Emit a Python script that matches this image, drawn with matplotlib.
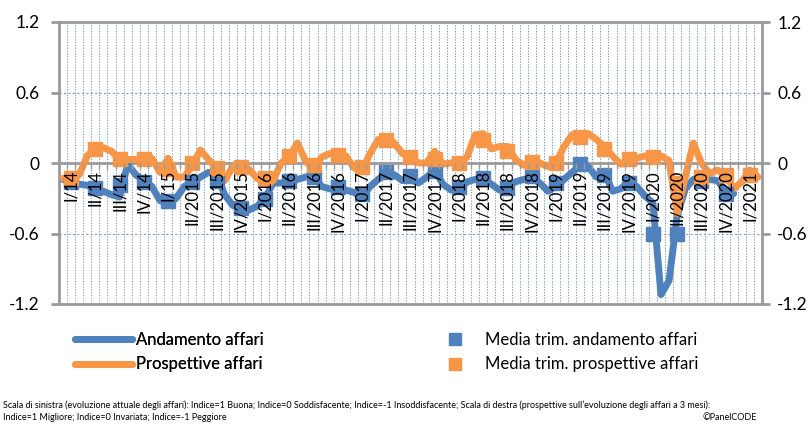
import numpy as np
import matplotlib
matplotlib.use("Agg")
import matplotlib.pyplot as plt
from matplotlib.lines import Line2D

plt.rcParams['font.family'] = ['Lato', 'DejaVu Sans']

# monthly values, Jan 2014 .. Mar 2021
andamento = [-0.14, -0.16, -0.18, -0.19, -0.22, -0.24, -0.27, -0.29, -0.01, -0.10,
             -0.15, -0.20, -0.32, -0.35, -0.30, -0.20, -0.17, -0.12, -0.08, -0.10,
             -0.27, -0.36, -0.40, -0.40, -0.37, -0.30, -0.17, -0.17, -0.16, -0.14,
             -0.12, -0.10, -0.20, -0.22, -0.22, -0.23, -0.25, -0.29, -0.20, -0.14,
             -0.09, -0.10, -0.15, -0.14, -0.17, -0.12, -0.06, -0.18, -0.23, -0.23,
             -0.16, -0.14, -0.14, -0.18, -0.23, -0.20, -0.16, -0.14, -0.13, -0.17,
             -0.24, -0.20, -0.14, -0.08, -0.02, -0.03, -0.12, -0.08, -0.24, -0.22,
             -0.16, -0.20, -0.28, -0.34, -1.12, -1.00, -0.45, -0.22, -0.14, -0.14,
             -0.14, -0.15, -0.24, -0.26]
prospettive = [-0.13, -0.13, -0.10, 0.06, 0.13, 0.13, 0.10, 0.03, 0.03, 0.03,
               0.04, 0.04, -0.08, 0.04, -0.12, -0.12, -0.02, 0.11, 0.03, -0.04,
               -0.15, -0.03, -0.03, -0.05, -0.13, -0.16, -0.15, 0.00, 0.05, 0.17,
               0.02, -0.06, 0.05, 0.08, 0.08, 0.06, -0.04, -0.06, 0.08, 0.20,
               0.21, 0.17, 0.08, 0.05, 0.00, 0.00, 0.10, -0.01, 0.00, 0.00,
               0.05, 0.24, 0.25, 0.12, 0.14, 0.14, 0.03, -0.02, 0.03, 0.00,
               -0.03, 0.00, 0.14, 0.24, 0.25, 0.25, 0.20, 0.14, 0.06, -0.01,
               0.00, 0.04, 0.06, 0.04, 0.06, 0.02, -0.43, -0.12, 0.17, 0.00,
               -0.09, -0.06, -0.10, -0.22, -0.16, -0.06, -0.12]

# quarterly averages (plotted on middle month of each quarter)
media_andamento = [-0.16, -0.21, -0.19, -0.16, -0.32, -0.16, -0.15, -0.38, -0.31, -0.15,
                   -0.12, -0.20, -0.26, -0.08, -0.11, -0.07, -0.20, -0.13, -0.21, -0.11,
                   -0.17, -0.01, -0.10, -0.17, -0.60, -0.60, -0.15, -0.26]
media_prospettive = [-0.13, 0.12, 0.03, 0.03, -0.05, 0.00, -0.04, -0.03, -0.13, 0.06,
                     -0.02, 0.07, -0.03, 0.20, 0.05, 0.03, 0.00, 0.20, 0.10, 0.01,
                     0.00, 0.22, 0.12, 0.03, 0.05, -0.17, -0.12, -0.10, -0.10]

quarters = ["I/14", "II/14", "III/14", "IV/14", "I/15"]
for year in range(2015, 2022):
    for q in ["I", "II", "III", "IV"]:
        if q == "I" and year == 2015:
            continue
        quarters.append(q + "/" + str(year))
quarters = quarters[:29]

blue = '#4F81BD'
orange = '#F79646'
gray = '#9A9A9A'
grid_blue = '#4F75AE'

n_months = len(prospettive)
fig = plt.figure(figsize=(8.12, 4.25), dpi=100)
ax = fig.add_axes([59 / 812, 1 - 304 / 425, 703 / 812, 282 / 425])

ax.set_xlim(-0.5, n_months - 0.5)
ax.set_ylim(-1.2, 1.2)

# gridlines
for b in np.arange(0.5, n_months - 1, 1):
    ax.axvline(b, color=grid_blue, lw=0.5, dashes=(2, 2), zorder=1)
for yv in (-0.6, 0.6):
    ax.axhline(yv, color='#7F9CC8', lw=0.8, dashes=(2, 2), zorder=1)
ax.axhline(-1.2, color=gray, lw=2, zorder=2, clip_on=False)

x_m = np.arange(n_months)
ax.plot(x_m[:len(andamento)], andamento, color=blue, lw=5,
        solid_capstyle='round', solid_joinstyle='round', zorder=3)
ax.plot(x_m, prospettive, color=orange, lw=5,
        solid_capstyle='round', solid_joinstyle='round', zorder=4)
q_pos = np.arange(1, n_months, 3)
ax.plot(q_pos[:len(media_andamento)], media_andamento, ls='none', marker='s',
        ms=10, color=blue, zorder=5)
ax.plot(q_pos[:len(media_prospettive)], media_prospettive, ls='none', marker='s',
        ms=10, color=orange, zorder=6)

# x axis crossing at zero
ax.spines['bottom'].set_position(('data', 0))
for s in ['bottom', 'top', 'left']:
    ax.spines[s].set_color(gray)
    ax.spines[s].set_linewidth(2)
ax.spines['right'].set_visible(False)
ax.spines['bottom'].set_zorder(2)
ax.xaxis.set_zorder(8)

ax.set_xticks(np.arange(0.5, n_months - 1, 1))
ax.set_xticklabels([])
ax.tick_params(axis='x', which='major', direction='out', length=4, width=1, color=gray)
ax.set_xticks(q_pos, minor=True)
ax.set_xticklabels(quarters, minor=True, rotation=90, fontsize=12, va='top', ha='center')
ax.tick_params(axis='x', which='minor', length=0, pad=5)

yt = [-1.2, -0.6, 0, 0.6, 1.2]
ylab = ["-1.2", "-0.6", "0", "0.6", "1.2"]
ax.set_yticks(yt)
ax.set_yticklabels(ylab, fontsize=12.5)
ax.tick_params(axis='y', direction='out', length=6, width=2, color=gray, pad=8)

ax2 = ax.twinx()
ax2.set_ylim(-1.2, 1.2)
ax2.set_yticks(yt)
ax2.set_yticklabels(ylab, fontsize=12.5)
ax2.tick_params(axis='y', direction='out', length=6, width=2, color=gray, pad=5)
for s in ['bottom', 'top', 'left']:
    ax2.spines[s].set_visible(False)
ax2.spines['right'].set_color(gray)
ax2.spines['right'].set_linewidth(2)

line_handles = [
    Line2D([], [], color=blue, lw=5, solid_capstyle='round'),
    Line2D([], [], color=orange, lw=5, solid_capstyle='round'),
]
marker_handles = [
    Line2D([], [], color=blue, ls='none', marker='s', ms=8),
    Line2D([], [], color=orange, ls='none', marker='s', ms=8),
]
leg1 = fig.legend(line_handles, ["Andamento affari", "Prospettive affari"],
                  loc='upper left', bbox_to_anchor=(75 / 812, 1 - 332 / 425),
                  frameon=False, fontsize=12, handlelength=3.4, handletextpad=0.25,
                  labelspacing=0.5, borderpad=0, borderaxespad=0)
leg2 = fig.legend(marker_handles, ["Media trim. andamento affari", "Media trim. prospettive affari"],
                  loc='upper left', bbox_to_anchor=(429 / 812, 1 - 332 / 425),
                  frameon=False, fontsize=12, handlelength=3.1, handletextpad=0.25,
                  labelspacing=0.5, borderpad=0, borderaxespad=0)
fig.add_artist(leg1)

fig.text(3 / 812, 1 - 405 / 425,
         "Scala di sinistra (evoluzione attuale degli affari): Indice=1 Buona; Indice=0 Soddisfacente; "
         "Indice=-1 Insoddisfacente; Scala di destra (prospettive sull\u2019evoluzione degli affari a 3 mesi):",
         fontsize=6.5, va='center', ha='left')
fig.text(3 / 812, 1 - 417 / 425, "Indice=1 Migliore; Indice=0 Invariata; Indice=-1 Peggiore",
         fontsize=6.5, va='center', ha='left')
fig.text(757 / 812, 1 - 417 / 425, "\u00a9PanelCODE", fontsize=6.5, va='center', ha='right')

fig.savefig("out.png", dpi=100)
